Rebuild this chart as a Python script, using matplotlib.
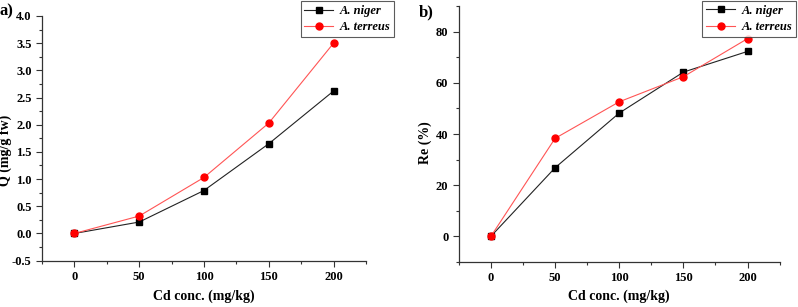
import matplotlib
matplotlib.use("Agg")
import matplotlib.pyplot as plt
from matplotlib.ticker import MultipleLocator, FormatStrFormatter

plt.rcParams['font.family'] = ['Liberation Serif', 'DejaVu Serif']
plt.rcParams['font.weight'] = 'bold'

conc = [0, 50, 100, 150, 200]
q_niger = [0.0, 0.21, 0.79, 1.65, 2.62]
q_terreus = [0.0, 0.32, 1.03, 2.03, 3.50]
re_niger = [0.0, 26.8, 48.2, 64.2, 72.3]
re_terreus = [0.0, 38.3, 52.6, 62.4, 77.3]
labels = ['A. niger', 'A. terreus']

fig = plt.figure(figsize=(7.98, 3.07), dpi=100)
axa = fig.add_axes([0.0526, 0.151, 0.406, 0.797])
axb = fig.add_axes([0.575, 0.147, 0.402, 0.833])

def style(ax):
    for s in ['top', 'right']:
        ax.spines[s].set_visible(False)
    for s in ['left', 'bottom']:
        ax.spines[s].set_color('#333333')
        ax.spines[s].set_linewidth(0.9)
    ax.tick_params(which='both', direction='out', color='#333333', width=0.8)
    ax.tick_params(which='major', length=4, labelsize=9)
    ax.tick_params(which='minor', length=2.5)
    ax.xaxis.set_major_locator(MultipleLocator(50))
    ax.xaxis.set_minor_locator(MultipleLocator(25))
    ax.set_xlim(-25, 225)
    for lab in ax.get_xticklabels() + ax.get_yticklabels():
        lab.set_fontweight('bold')
    ax.set_xlabel('Cd conc. (mg/kg)', fontsize=10, fontweight='bold')

def plot(ax, yn, yt, anchor):
    ax.plot(conc, yn, color='#222222', lw=0.8, marker='s', ms=5, mfc='black', mec='black', label=labels[0])
    ax.plot(conc, yt, color='#ff5555', lw=0.8, marker='o', ms=5, mfc='red', mec='red', label=labels[1])
    leg = ax.legend(loc='upper right', bbox_to_anchor=anchor, frameon=True, fancybox=False,
                    edgecolor='#333333', prop={'style': 'italic', 'weight': 'bold', 'size': 9},
                    borderpad=0.3, handlelength=2.3, labelspacing=0.35, handletextpad=0.5,
                    borderaxespad=0.0)
    leg.get_frame().set_linewidth(0.8)

plot(axa, q_niger, q_terreus, (1.086, 1.06))
axa.set_ylim(-0.5, 4.0)
axa.yaxis.set_major_locator(MultipleLocator(0.5))
axa.yaxis.set_minor_locator(MultipleLocator(0.25))
axa.yaxis.set_major_formatter(FormatStrFormatter('%.1f'))
style(axa)
axa.set_ylabel('Q (mg/g fw)', fontsize=10, fontweight='bold')
axa.yaxis.set_label_coords(-0.092, 0.45)
axa.xaxis.set_label_coords(0.5, -0.12)

plot(axb, re_niger, re_terreus, (1.05, 1.02))
axb.set_ylim(-10, 90)
axb.yaxis.set_major_locator(MultipleLocator(20))
axb.yaxis.set_minor_locator(MultipleLocator(10))
style(axb)
axb.set_ylabel('Re (%)', fontsize=10, fontweight='bold')
axb.yaxis.set_label_coords(-0.084, 0.465)
axb.xaxis.set_label_coords(0.5, -0.109)

fig.text(0.0, 0.99, 'a)', fontsize=12, fontweight='bold', va='top')
fig.text(0.525, 0.985, 'b)', fontsize=12, fontweight='bold', va='top')

fig.savefig('out.png', dpi=100)
